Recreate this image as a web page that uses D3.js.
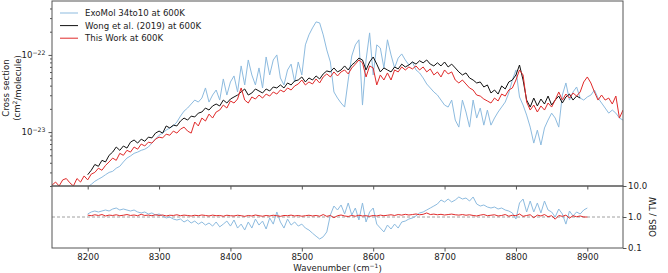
<!DOCTYPE html>
<html><head><meta charset="utf-8">
<script src="https://cdn.jsdelivr.net/npm/d3@7"></script>
<style>
body{margin:0;background:#fff}
svg{display:block}
text{font-family:"DejaVu Sans",sans-serif;fill:#222}
</style>
</head><body>
<svg id="c" width="668" height="273"></svg>
<script>
// cross sections in units of 1e-23 cm^2/molecule, 5 cm^-1 grid
const unit = 1e-23;
const step = 5;
const exomolStart = 8200;
const exomol = [
0.195,0.21,0.23,0.245,0.26,0.28,0.30,0.31,0.34,0.36,
0.41,0.46,0.49,0.53,0.55,0.58,0.60,0.64,0.72,0.81,
0.91,0.97,1.06,1.13,1.20,1.35,1.61,1.87,2.05,2.31,
2.60,2.45,2.76,3.73,2.45,3.02,3.51,2.60,4.88,3.02,
4.46,5.34,3.31,7.2,4.08,8.6,5.50,4.08,6.78,3.73,
9.4,5.50,8.6,10.0,5.03,4.08,6.38,7.6,4.46,8.1,
5.50,13.5,18.2,22.4,26.8,26.0,18.2,11.6,8.1,3.31,
2.76,2.38,2.11,4.73,9.7,13.5,15.7,2.24,8.6,19.3,
5.50,13.5,12.3,6.78,15.7,10.0,6.78,9.1,10.3,8.6,
7.4,8.1,6.38,5.84,5.03,4.20,3.73,3.31,3.02,2.60,
2.24,2.11,2.60,1.43,1.16,2.60,1.82,1.16,2.60,1.52,
2.05,1.23,1.93,1.23,1.52,1.82,2.11,2.45,3.21,4.73,
6.38,2.85,2.24,1.66,1.16,0.72,1.06,0.68,1.13,1.43,
1.76,1.52,1.16,3.02,4.33,2.60,3.31,3.84,2.76,2.60,
2.85,3.02,3.51,2.76,2.38,2.05,1.76,1.93,1.76,1.52,
1.43];
const wongStart = 8200;
const wong = [
0.28,0.32,0.38,0.36,0.43,0.41,0.50,0.55,0.64,0.58,
0.66,0.62,0.74,0.79,0.72,0.81,0.76,0.86,0.84,0.97,
1.03,0.97,1.20,1.13,1.23,1.20,1.39,1.52,1.43,1.61,
1.57,1.76,1.82,2.05,1.93,2.18,2.31,2.18,2.60,2.38,
2.68,2.85,3.02,3.31,3.62,3.02,3.21,3.62,3.41,3.21,
3.62,3.41,3.84,3.73,4.08,3.73,4.33,4.08,4.60,4.73,
5.18,4.46,5.03,4.73,5.34,4.88,5.67,6.20,6.02,6.78,
6.02,6.38,7.2,6.38,7.4,8.1,9.1,8.6,6.38,8.1,
9.4,7.6,6.02,6.78,6.38,6.02,6.98,6.58,7.6,6.98,
7.4,8.1,7.6,8.4,7.9,8.6,7.6,7.2,7.9,7.2,
8.1,6.98,7.6,6.78,6.02,5.50,5.84,5.03,4.73,4.33,
4.46,3.84,4.08,3.21,3.51,3.11,3.96,3.62,4.46,4.73,
5.50,7.4,4.73,2.60,2.11,2.76,2.18,2.68,2.31,2.93,
2.24,2.60,2.93,2.38,2.85,3.11,2.60,2.93,2.76];
const thisWorkStart = 8150;
const thisWork = [
0.205,0.225,0.20,0.24,0.25,0.22,0.20,0.25,0.225,0.27,
0.24,0.285,0.30,0.34,0.32,0.37,0.41,0.46,0.43,0.53,
0.50,0.58,0.55,0.64,0.60,0.70,0.66,0.74,0.72,0.81,
0.86,0.84,0.94,0.91,1.03,0.97,1.09,1.16,1.03,0.97,
1.35,1.20,1.52,1.39,1.71,1.52,1.82,1.93,2.24,2.05,
2.53,2.38,2.68,3.73,2.60,2.38,2.85,2.68,3.02,2.76,
3.11,2.93,3.31,3.11,3.51,3.31,3.73,3.51,3.96,4.20,
4.73,4.08,4.46,4.20,4.88,4.33,5.18,5.67,5.18,6.02,
5.34,6.02,6.38,5.67,6.78,7.6,8.6,7.9,5.18,7.2,
6.78,4.08,5.50,4.73,5.84,4.73,6.38,6.02,6.98,6.38,
6.98,6.58,7.2,6.38,6.98,6.02,6.58,5.50,6.02,5.18,
6.38,5.67,6.02,4.73,4.33,4.73,4.20,3.73,3.51,3.02,
2.93,2.68,2.53,2.38,2.76,2.53,3.11,2.93,3.51,3.73,
4.73,6.38,5.50,2.45,1.93,2.24,1.82,2.18,1.93,2.38,
2.11,2.60,3.31,2.60,3.11,2.76,3.21,2.93,3.31,4.46,
5.18,4.33,3.31,2.60,3.02,2.60,2.76,2.31,2.93,1.52,
1.93];
// ratio panel (OBS / TW), 8200-8900
const ratioStart = 8200;
const ratioExomol = [
1.25,1.45,1.56,1.45,1.56,1.68,1.56,1.81,1.95,1.68,
1.81,1.68,1.56,1.68,1.45,1.35,1.45,1.25,1.35,1.16,
1.25,1.08,0.93,1.0,0.86,0.80,0.86,0.69,0.80,0.64,
0.74,0.59,0.69,0.55,0.64,0.51,0.69,0.48,0.59,0.74,
0.51,0.80,0.44,0.59,0.38,0.69,0.44,0.86,0.55,0.74,
0.41,0.93,0.59,1.45,0.69,0.44,0.86,0.55,0.69,0.51,
0.59,0.44,0.38,0.30,0.24,0.195,0.23,0.33,1.16,2.26,
1.68,2.44,1.25,2.83,1.16,1.95,0.80,2.83,0.69,1.45,
1.95,0.59,0.44,0.33,0.55,0.41,0.59,0.44,0.69,0.74,
0.86,0.93,1.08,1.35,1.45,1.68,1.95,2.26,2.63,3.54,
3.05,3.8,3.05,3.54,4.42,3.8,4.1,3.28,4.42,2.63,
2.26,2.44,2.10,1.95,2.10,1.81,1.95,1.68,1.56,1.35,
0.86,2.83,3.8,1.45,3.28,1.45,2.83,1.35,3.28,1.68,
1.45,1.0,1.81,1.25,0.59,1.56,1.08,1.45,1.25,1.68,
1.95];
const ratioWong = [
1.15,1.10,1.18,1.12,1.20,1.08,1.15,1.12,1.18,1.10,1.14,1.20,1.12,1.16,1.10,1.22,1.12,1.15,1.10,1.18,
1.12,1.16,1.08,1.14,1.12,1.18,1.10,1.15,1.12,1.08,1.14,1.10,1.16,1.12,1.08,1.15,1.10,1.12,1.06,1.14,
1.10,1.08,1.14,1.10,1.05,1.12,1.08,1.16,1.10,1.06,1.12,1.08,1.14,1.10,1.05,1.12,1.10,1.15,1.08,1.12,
1.06,1.10,1.14,1.08,1.12,1.06,1.20,1.05,1.12,0.95,1.10,1.16,1.08,1.04,1.12,1.06,1.14,1.08,1.10,1.05,
1.12,1.08,1.15,1.10,1.14,1.18,1.12,1.20,1.15,1.22,1.16,1.20,1.25,1.18,1.22,1.35,1.20,1.24,1.18,1.22,
1.16,1.20,1.24,1.18,1.15,1.20,1.14,1.18,1.12,1.08,1.15,1.20,1.10,1.14,1.18,1.08,1.12,1.20,1.06,1.14,
1.10,1.25,1.05,1.12,1.18,0.95,1.15,1.08,1.20,1.02,1.10,0.85,1.12,1.05,1.15,0.92,1.10,1.02,1.08,1.00,
1.00];
const xTicks = [8200,8300,8400,8500,8600,8700,8800,8900];
const yTopTicks = [1e-23,1e-22];
const ratioTicks = [0.1,1,10];
const legendLabels = ["ExoMol 34to10 at 600K","Wong et al. (2019) at 600K","This Work at 600K"];
const colors = {exomol:"#8dbbdf", wong:"#111111", tw:"#e02a2a"};

const svg = d3.select("#c");
const L = 52, R = 623, T = 1, M = 186, B = 248;
const x = d3.scaleLinear([8150, 8950], [L, R]);
const yTop = d3.scaleLog([2e-24, 5e-22], [M, T]);
const yRat = d3.scaleLog([0.1, 10], [B, M]);
const axisCol = "#555";

const defs = svg.append("defs");
defs.append("clipPath").attr("id","ct").append("rect").attr("x",L).attr("y",T).attr("width",R-L).attr("height",M-T);
defs.append("clipPath").attr("id","cb").append("rect").attr("x",L).attr("y",M).attr("width",R-L).attr("height",B-M);

const toPts = (arr, start) => arr.map((v,i)=>[start+i*step, v]);
const lineTop = d3.line().x(d=>x(d[0])).y(d=>yTop(d[1]*unit));
const lineRat = d3.line().x(d=>x(d[0])).y(d=>yRat(d[1]));

const gt = svg.append("g").attr("clip-path","url(#ct)");
gt.append("path").attr("d", lineTop(toPts(exomol, exomolStart))).attr("fill","none").attr("stroke",colors.exomol).attr("stroke-width",1);
gt.append("path").attr("d", lineTop(toPts(wong, wongStart))).attr("fill","none").attr("stroke",colors.wong).attr("stroke-width",1);
gt.append("path").attr("d", lineTop(toPts(thisWork, thisWorkStart))).attr("fill","none").attr("stroke",colors.tw).attr("stroke-width",1);

const gb = svg.append("g").attr("clip-path","url(#cb)");
gb.append("line").attr("x1",L).attr("x2",R).attr("y1",yRat(1)).attr("y2",yRat(1)).attr("stroke","#888").attr("stroke-width",0.8).attr("stroke-dasharray","3,2");
gb.append("path").attr("d", lineRat(toPts(ratioExomol, ratioStart))).attr("fill","none").attr("stroke",colors.exomol).attr("stroke-width",1);
gb.append("path").attr("d", lineRat(toPts(ratioWong, ratioStart))).attr("fill","none").attr("stroke",colors.tw).attr("stroke-width",1);

// spines
svg.append("rect").attr("x",L).attr("y",T).attr("width",R-L).attr("height",M-T).attr("fill","none").attr("stroke",axisCol).attr("stroke-width",1);
svg.append("rect").attr("x",L).attr("y",M).attr("width",R-L).attr("height",B-M).attr("fill","none").attr("stroke",axisCol).attr("stroke-width",1);

function styleAxis(g){
  g.select(".domain").remove();
  g.selectAll(".tick line").attr("stroke",axisCol);
  g.selectAll(".tick text").attr("font-size","8.6px").attr("fill","#222").style("font-family","DejaVu Sans");
}

// left major ticks with 10^n labels
svg.append("g").attr("transform",`translate(${L},0)`)
  .call(d3.axisLeft(yTop).tickValues(yTopTicks).tickSize(3.5).tickPadding(3).tickFormat(""))
  .call(styleAxis)
  .call(g=>g.selectAll(".tick text").each(function(d){
     const t = d3.select(this);
     t.text("10");
     t.append("tspan").attr("dy","-0.55em").attr("font-size","6.2px").text("\u2212"+Math.round(-Math.log10(d)));
  }));
// minor ticks
const minors = [];
[1e-24,1e-23,1e-22].forEach(dec=>{ for(let k=2;k<=9;k++){ const v=k*dec; if(v>=2e-24 && v<=5e-22 && k!==1) minors.push(v);} });
svg.append("g").attr("transform",`translate(${L},0)`)
  .call(d3.axisLeft(yTop).tickValues(minors).tickSize(2).tickFormat(""))
  .call(styleAxis);

// x ticks between panels (no labels)
svg.append("g").attr("transform",`translate(0,${M})`)
  .call(d3.axisBottom(x).tickValues(xTicks).tickSize(3.5).tickFormat(""))
  .call(styleAxis);
// bottom x axis
svg.append("g").attr("transform",`translate(0,${B})`)
  .call(d3.axisBottom(x).tickValues(xTicks).tickSize(3.5).tickPadding(2).tickFormat(d3.format("d")))
  .call(styleAxis);
// right ratio axis
svg.append("g").attr("transform",`translate(${R},0)`)
  .call(d3.axisRight(yRat).tickValues(ratioTicks).tickSize(3.5).tickPadding(1.5).tickFormat(d3.format(".1f")))
  .call(styleAxis);

// axis labels
const yl = svg.append("text").attr("transform","translate(8.5,88) rotate(-90)").attr("text-anchor","middle").attr("font-size","8.6px");
yl.text("Cross section");
const yl2 = svg.append("text").attr("transform","translate(19.5,88) rotate(-90)").attr("text-anchor","middle").attr("font-size","8.6px");
yl2.append("tspan").text("(cm");
yl2.append("tspan").attr("dy","-0.45em").attr("font-size","6px").text("2");
yl2.append("tspan").attr("dy","0.45em").text("/molecule)");

const xl = svg.append("text").attr("x",(L+R)/2).attr("y",271).attr("text-anchor","middle").attr("font-size","8.6px");
xl.append("tspan").text("Wavenumber (cm");
xl.append("tspan").attr("dy","-0.45em").attr("font-size","6px").text("\u22121");
xl.append("tspan").attr("dy","0.45em").text(")");

svg.append("text").attr("transform",`translate(656,${yRat(1)}) rotate(-90)`).attr("text-anchor","middle").attr("font-size","8.6px").text("OBS / TW");

// legend
const legColors = [colors.exomol, colors.wong, colors.tw];
legendLabels.forEach((lab,i)=>{
  const yy = 13 + i*12.6;
  svg.append("line").attr("x1",60).attr("x2",78).attr("y1",yy).attr("y2",yy).attr("stroke",legColors[i]).attr("stroke-width",1);
  svg.append("text").attr("x",85).attr("y",yy+3.1).attr("font-size","8.6px").text(lab);
});
</script>
</body></html>
